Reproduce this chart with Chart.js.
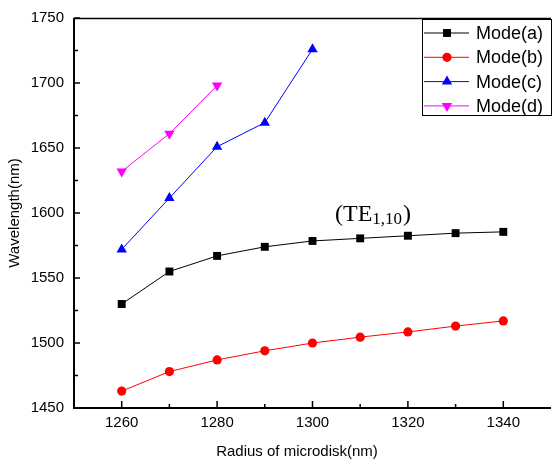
<!DOCTYPE html>
<html lang="en">
<head>
<meta charset="UTF-8">
<title>Wavelength vs radius</title>
<script src="https://cdn.jsdelivr.net/npm/chart.js"></script>
<style>
  html, body { margin: 0; padding: 0; background: #fff; overflow: hidden; }
  canvas { display: block; }
</style>
</head>
<body>
<canvas id="grafico" width="557" height="464"></canvas>
<script>
// dados
const raios = [1260, 1270, 1280, 1290, 1300, 1310, 1320, 1330, 1340];
const modoA = [1530, 1555, 1567, 1574, 1578.5, 1580.5, 1582.5, 1584.5, 1585.5];
const modoB = [1463, 1478, 1487, 1494, 1500, 1504.5, 1508.5, 1513, 1517];
const modoC = [1572, 1611.5, 1651, 1669.5, 1726];
const modoD = [1632, 1661, 1698];
const ticksX = [1260, 1280, 1300, 1320, 1340];
const ticksXmenor = [1270, 1290, 1310, 1330];
const ticksY = [1450, 1500, 1550, 1600, 1650, 1700, 1750];
const ticksYmenor = [1475, 1525, 1575, 1625, 1675, 1725];

const sans = '"Liberation Sans", Arial, sans-serif';
const serif = '"Liberation Serif", "Times New Roman", serif';

function pontos(vals) {
  return vals.map((v, i) => ({ x: raios[i], y: v }));
}

// desenha eixos, ticks, legenda e textos
const eixos = {
  id: 'eixos',
  afterDraw(chart) {
    const ctx = chart.ctx;
    const a = chart.chartArea;
    const sx = chart.scales.x, sy = chart.scales.y;
    ctx.save();
    ctx.strokeStyle = '#000';
    ctx.fillStyle = '#000';

    // moldura
    ctx.lineWidth = 1.5;
    ctx.beginPath();
    ctx.moveTo(a.left, a.top + 0.5);
    ctx.lineTo(a.right, a.top + 0.5);
    ctx.stroke();
    ctx.lineWidth = 2;
    ctx.beginPath();
    ctx.moveTo(a.left, a.top);
    ctx.lineTo(a.left, a.bottom);
    ctx.lineTo(a.right, a.bottom);
    ctx.stroke();

    // ticks
    ctx.lineWidth = 1.5;
    ctx.beginPath();
    ticksX.forEach(v => { const p = sx.getPixelForValue(v); ctx.moveTo(p, a.bottom); ctx.lineTo(p, a.bottom - 7); });
    ticksXmenor.forEach(v => { const p = sx.getPixelForValue(v); ctx.moveTo(p, a.bottom); ctx.lineTo(p, a.bottom - 4); });
    ticksY.forEach(v => { const p = sy.getPixelForValue(v); ctx.moveTo(a.left, p); ctx.lineTo(a.left + 6, p); });
    ticksYmenor.forEach(v => { const p = sy.getPixelForValue(v); ctx.moveTo(a.left, p); ctx.lineTo(a.left + 4, p); });
    ctx.stroke();

    ctx.font = '15px ' + sans;
    ctx.textAlign = 'center';
    ctx.textBaseline = 'middle';
    ticksX.forEach(v => ctx.fillText(String(v), sx.getPixelForValue(v), a.bottom + 15));
    ctx.textAlign = 'right';
    ticksY.forEach(v => ctx.fillText(String(v), a.left - 10, sy.getPixelForValue(v)));

    // títulos
    ctx.textAlign = 'center';
    ctx.fillText('Radius of microdisk(nm)', 297, 452);
    ctx.save();
    ctx.translate(15, (a.top + a.bottom) / 2);
    ctx.rotate(-Math.PI / 2);
    ctx.fillText('Wavelength(nm)', 0, 0);
    ctx.restore();

    // legenda
    ctx.lineWidth = 1;
    ctx.strokeRect(422.5, 19.5, 129, 96);
    ctx.font = '18px ' + sans;
    ctx.textAlign = 'left';
    chart.data.datasets.forEach((ds, i) => {
      const y = 33 + i * 24.3;
      ctx.strokeStyle = ds.borderColor;
      ctx.lineWidth = 1;
      ctx.beginPath();
      ctx.moveTo(424, y);
      ctx.lineTo(469, y);
      ctx.stroke();
      ctx.fillStyle = ds.backgroundColor;
      Chart.helpers.drawPoint(ctx, {
        pointStyle: ds.pointStyle, radius: ds.pointRadius,
        rotation: ds.pointRotation || 0, borderWidth: 0
      }, 447, y);
      ctx.fillStyle = '#000';
      ctx.fillText(ds.label, 476, y + 1);
    });

    // anotação (TE1,10)
    ctx.textBaseline = 'alphabetic';
    ctx.font = '24px ' + serif;
    let x = 335;
    ctx.fillText('(TE', x, 221);
    x += ctx.measureText('(TE').width;
    ctx.font = '17px ' + serif;
    ctx.fillText('1,10', x, 224);
    x += ctx.measureText('1,10').width + 1;
    ctx.font = '24px ' + serif;
    ctx.fillText(')', x, 221);
    ctx.restore();
  }
};

const ctx = document.getElementById('grafico').getContext('2d');
const grafico = new Chart(ctx, {
  type: 'scatter',
  data: {
    datasets: [
      { label: 'Mode(a)', data: pontos(modoA), borderColor: '#000000', backgroundColor: '#000000', pointStyle: 'rect', pointRadius: 5.6 },
      { label: 'Mode(b)', data: pontos(modoB), borderColor: '#ff0000', backgroundColor: '#ff0000', pointStyle: 'circle', pointRadius: 4.6 },
      { label: 'Mode(c)', data: pontos(modoC), borderColor: '#0000ff', backgroundColor: '#0000ff', pointStyle: 'triangle', pointRadius: 6 },
      { label: 'Mode(d)', data: pontos(modoD), borderColor: '#ff00ff', backgroundColor: '#ff00ff', pointStyle: 'triangle', pointRotation: 180, pointRadius: 6 }
    ].map(d => Object.assign({ showLine: true, borderWidth: 1, pointBorderWidth: 0, pointHoverRadius: d.pointRadius }, d))
  },
  options: {
    responsive: false,
    animation: false,
    layout: { padding: { left: 74, top: 18, right: 0, bottom: 56 } },
    scales: {
      x: { type: 'linear', min: 1250, max: 1350, display: false },
      y: { type: 'linear', min: 1450, max: 1750, display: false }
    },
    plugins: {
      legend: { display: false },
      tooltip: { enabled: false }
    }
  },
  plugins: [eixos]
});
</script>
</body>
</html>
